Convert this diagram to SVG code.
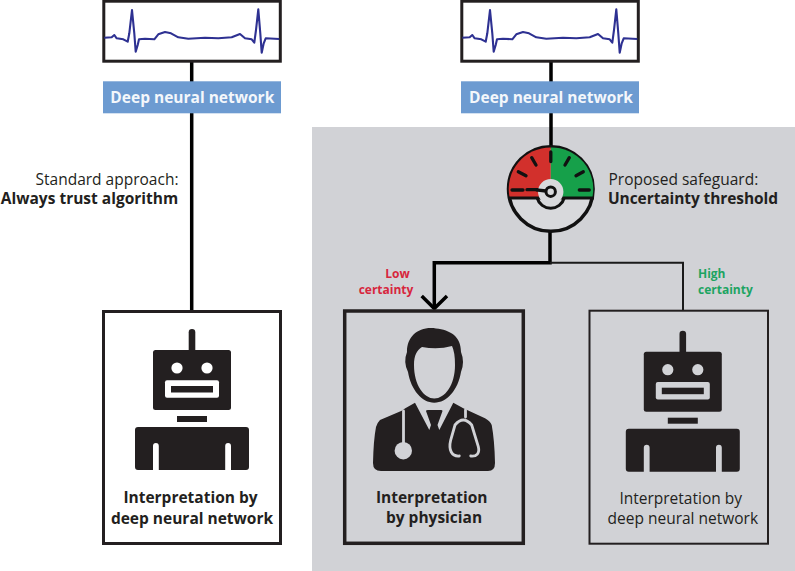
<svg xmlns="http://www.w3.org/2000/svg" width="795" height="571" viewBox="0 0 795 571">
<style>
text{font-family:"Open Sans","Noto Sans",sans-serif;text-anchor:middle;fill:#231f20}
.b{font-weight:700}
.lbl{font-size:15.5px}
.start{text-anchor:start}
.small{font-size:12px;font-weight:700}
.red{fill:#d7263d}
.green{fill:#1da462}
.blue{fill:#6d9bd1}
.blue-t{font-size:15.5px;font-weight:700;fill:#f4f7fb}
.ecg{fill:#fff;stroke:#231f20;stroke-width:3}
.trace{fill:none;stroke:#2e3192;stroke-width:2.100;stroke-linejoin:round}
.wire{fill:none;stroke:#000;stroke-width:3.500}
.thin{fill:none;stroke:#1a1a1a;stroke-width:2}
.ink{fill:#231f20}
.cut{fill:none;stroke:#d1d2d6;stroke-width:2.800;stroke-linecap:round}
</style>
<defs>
<path id="trace" class="trace" d="M9.300 37.700L16.700 37.300L19.300 35L21.700 38.300L28.300 39.300L32.700 41.700L34.300 33.300L37 10L39.300 33.300L40.700 51.700L42.700 45L44 39.300L50 38.700L59.300 39.300L63.300 34.300L70 32L76 33.300L83.300 37.300L93.300 38.700L110 37.700L123.300 38.300L136.700 37.300L145 34L150 38.300L156.700 39.300L159.300 42.700L161 30L163.300 9.300L165.300 33.300L166.700 52.700L168.700 43.300L170.700 38.300L184.300 39"/>
<g id="robot-body" class="ink">
<rect x="-3.300" y="-67" width="6.600" height="24" rx="3.300"/>
<path d="M-39 -43.500Q-39 -46 -36.500 -46H36.500Q39 -46 39 -43.500V11.500Q39 14 36.500 14H-36.500Q-39 14 -39 11.500Z"/>
<rect x="-15" y="20" width="30" height="6"/>
<path d="M-57 34Q-57 31 -54 31H54Q57 31 57 34V71Q57 74 54 74H39V50A2.900 2.900 0 0 0 33.200 50V74H-33.200V50A2.900 2.900 0 0 0 -39 50V74H-54Q-57 74 -57 71Z"/>
</g>
</defs>
<rect x="312" y="127" width="483" height="444" fill="#d1d2d6"/>
<g id="connectors">
<path class="wire" d="M191.700 60V84M191.700 112V310"/>
<path class="wire" d="M551 60V84M551 112V146"/>
<path class="wire" d="M550 232V262.700H434.300V308"/>
<path class="wire" d="M421.700 296L434.300 308.500L447 296"/>
<path class="thin" d="M550 262.700H683V310"/>
</g>
<g id="ecg-left"><rect class="ecg" x="103.800" y="1.200" width="176.500" height="60"/><use href="#trace" x="95"/></g>
<g id="ecg-right"><rect class="ecg" x="461.800" y="1.200" width="176.500" height="60"/><use href="#trace" x="453"/></g>
<g id="dnn-left"><rect class="blue" x="103" y="81.300" width="178" height="32"/><text class="blue-t" x="192.300" y="103">Deep neural network</text></g>
<g id="dnn-right"><rect class="blue" x="461" y="81.300" width="178" height="32"/><text class="blue-t" x="551" y="103">Deep neural network</text></g>
<g id="label-standard"><text class="lbl" x="107" y="185">Standard approach:</text><text class="lbl b" x="89.500" y="203.500">Always trust algorithm</text></g>
<g id="gauge">
<circle cx="550.800" cy="189" r="42.300" fill="#d8d9dc" stroke="#111" stroke-width="3.500"/>
<path d="M509.500 197A41.500 41.500 0 0 1 550.800 147.500V197Z" fill="#d2302c"/>
<path d="M550.800 147.500A41.500 41.500 0 0 1 592.500 197H550.800Z" fill="#16a04a"/>
<path d="M508 198H594" stroke="#111" stroke-width="3.200"/>
<g stroke="#111" stroke-width="3.300" stroke-linecap="round" fill="none">
<path d="M512 190H523M527 189.700H540M550.800 152V161.500M531.700 157.700L536 165M518.300 171.700L526 175.700M569.300 157.700L565 165M583.300 171.700L576 175.700M579.300 190H589.300"/>
</g>
<circle cx="550.700" cy="191.700" r="12.700" fill="#d8d9dc"/>
<path d="M537.200 198A14 14 0 0 0 564.200 198" fill="none" stroke="#111" stroke-width="3"/>
<circle cx="550.700" cy="191.700" r="4.700" fill="#d8d9dc" stroke="#111" stroke-width="3"/>
<path d="M536 189.800L546 191" stroke="#111" stroke-width="3.300"/>
</g>
<g id="label-safeguard"><text class="lbl start" x="608.500" y="185">Proposed safeguard:</text><text class="lbl b start" x="608" y="203.500" textLength="170">Uncertainty threshold</text></g>
<g id="label-low"><text class="small red" x="397.500" y="278">Low</text><text class="small red" x="386" y="294.300">certainty</text></g>
<g id="label-high"><text class="small green start" x="698" y="278.300">High</text><text class="small green start" x="698" y="294.300">certainty</text></g>
<g id="box-left">
<rect x="103.500" y="311.500" width="177" height="232" fill="#fff" stroke="#231f20" stroke-width="3"/>
<g id="robot-left">
<use href="#robot-body" x="192" y="396"/>
<circle cx="177" cy="368" r="5.600" fill="#fff"/><circle cx="207" cy="368" r="5.600" fill="#fff"/>
<rect x="165" y="380.300" width="54" height="17.400" rx="2" fill="#fff"/>
<rect x="171" y="386" width="42" height="6.500" class="ink"/>
</g>
<text class="lbl b" x="190.500" y="503.300">Interpretation by</text><text class="lbl b" x="192" y="524">deep neural network</text>
</g>
<g id="box-physician">
<rect x="344.700" y="311" width="178.600" height="232.300" fill="none" stroke="#231f20" stroke-width="3.500"/>
<g id="physician-figure">
<path class="ink" d="M373 463Q373.500 440 376 427Q377 423 380 420L401.700 410.700L405.300 408.300L415 402.700L429.300 430L431 425L426 411Q426 410 428 410H441Q442.500 410 442.500 411L437.500 425L439.300 430L453.300 402.700L463.300 408.300L485 418.300Q490 421 491.700 425Q494.500 440 495 463Q495 471 488 471H381Q373 471 373 463Z"/>
<path class="ink" d="M436 328.500C419 326 407 336 407 352Q403 362 408 372C411 390 422 402.700 434.300 402.700C447 402.700 458 390 461 372Q465 362 461 352C461 336 450 330 436 328.500Z"/>
<path d="M434.300 398.500C424 398.500 414 385 414 365C414 355 417 350 422 347Q438 350 452 346Q455 352 455 365C455 385 445 398.500 434.300 398.500Z" fill="#d1d2d6"/>
<circle cx="403.300" cy="450.700" r="8.700" fill="#d1d2d6"/>
<path class="cut" d="M403.500 411V444"/>
<path class="cut" d="M459.300 456C451.700 456.700 448.300 450 450.700 440L455 425Q463.300 415 471.700 425L478.300 446.700C480 453.300 476.700 456.700 470.700 456"/>
<path class="cut" d="M465.500 410V417"/>
</g>
<text class="lbl b" x="431.700" y="503.300">Interpretation</text><text class="lbl b" x="434" y="523.300">by physician</text>
</g>
<g id="box-robot-right">
<rect x="589.500" y="310.700" width="178.500" height="233" fill="none" stroke="#231f20" stroke-width="2"/>
<g id="robot-right">
<use href="#robot-body" x="682.800" y="397.700"/>
<circle cx="667.800" cy="369.700" r="5.600" fill="#d1d2d6"/><circle cx="697.800" cy="369.700" r="5.600" fill="#d1d2d6"/>
<rect x="655.800" y="382" width="54" height="17.400" rx="2" fill="#d1d2d6"/>
<rect x="661.800" y="387.700" width="42" height="6.500" class="ink"/>
</g>
<text class="lbl" x="680.700" y="504">Interpretation by</text><text class="lbl" x="682.800" y="523.700">deep neural network</text>
</g>
</svg>
